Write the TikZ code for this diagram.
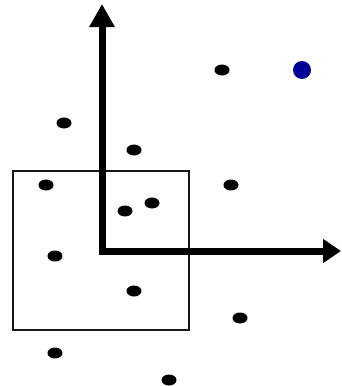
\documentclass[tikz,border=0pt]{standalone}
\usetikzlibrary{arrows.meta}
\definecolor{ptblue}{RGB}{0,0,150}
\begin{document}
\begin{tikzpicture}[x=1pt,y=-1pt,
  dot/.style={fill=black},
  axis/.style={line width=7pt,line join=miter},
  win/.style={draw=black!90,line width=1.6pt}]
\useasboundingbox (0,0) rectangle (341,386);
\coordinate (o) at (102,251);
\coordinate (ytip) at (102,4);
\coordinate (xtip) at (341,251);
\draw[win] (13,171) rectangle (189,330);
\draw[axis,{Triangle[length=23pt,width=24pt]}-{Triangle[length=18pt,width=23pt]}] (ytip) -- (o) -- (xtip);
\foreach \p in {(222,70),(64,123),(134,150),(46,185),(231,185),(125,211),(152,203),(55,256),(134,291),(240,318),(55,353),(169,380)}
  \fill[dot] \p ellipse[x radius=7.5pt,y radius=5.5pt];
\fill[ptblue] (302,70) circle[radius=9pt];
\end{tikzpicture}
\end{document}
